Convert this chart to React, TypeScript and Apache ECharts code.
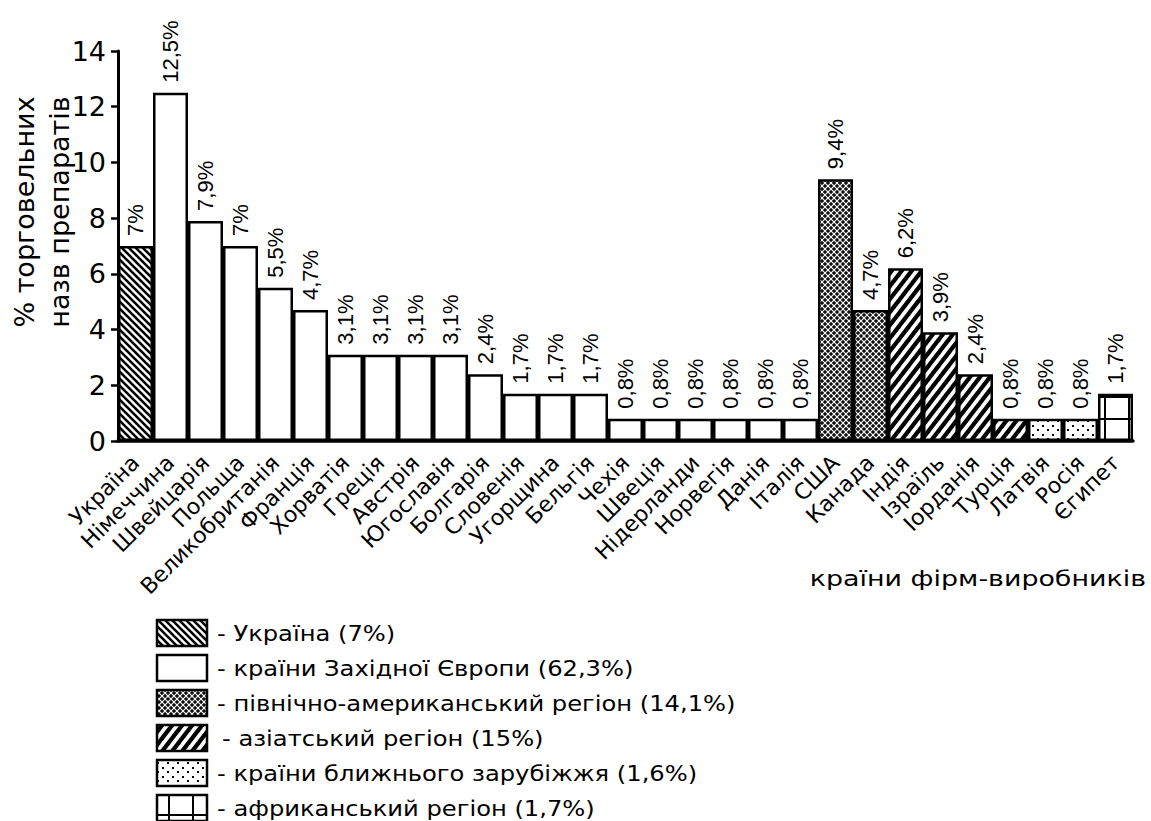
import { useEffect, useRef } from 'react';
import * as echarts from 'echarts';

const categories = [
  'Україна', 'Німеччина', 'Швейцарія', 'Польща', 'Великобританія', 'Франція',
  'Хорватія', 'Греція', 'Австрія', 'Югославія', 'Болгарія', 'Словенія',
  'Угорщина', 'Бельгія', 'Чехія', 'Швеція', 'Нідерланди', 'Норвегія', 'Данія',
  'Італія', 'США', 'Канада', 'Індія', 'Ізраїль', 'Іорданія', 'Турція',
  'Латвія', 'Росія', 'Єгипет',
];
const values = [
  7, 12.5, 7.9, 7, 5.5, 4.7, 3.1, 3.1, 3.1, 3.1, 2.4, 1.7, 1.7, 1.7,
  0.8, 0.8, 0.8, 0.8, 0.8, 0.8, 9.4, 4.7, 6.2, 3.9, 2.4, 0.8, 0.8, 0.8, 1.7,
];
const regionOf = [
  'ua',
  'we', 'we', 'we', 'we', 'we', 'we', 'we', 'we', 'we', 'we',
  'we', 'we', 'we', 'we', 'we', 'we', 'we', 'we', 'we',
  'na', 'na',
  'as', 'as', 'as', 'as',
  'near', 'near',
  'af',
];
const regionKeys = ['ua', 'we', 'na', 'as', 'near', 'af'];
const regionNames = [
  'Україна',
  'країни Західної Європи',
  'північно-американський регіон',
  'азіатський регіон',
  'країни ближнього зарубіжжя',
  'африканський регіон',
];
const regionShares = ['7%', '62,3%', '14,1%', '15%', '1,6%', '1,7%'];
const yMin = 0;
const yMax = 14;
const yStep = 2;
const yAxisTitle = ['% торговельних', 'назв препаратів'];
const xAxisTitle = 'країни фірм-виробників';

function makeTile(kind: string): HTMLCanvasElement {
  const c = document.createElement('canvas');
  let w = 8;
  let h = 8;
  if (kind === 'ua') { w = 7; h = 7; }
  if (kind === 'as') { w = 10; h = 13; }
  if (kind === 'na') { w = 6; h = 6; }
  if (kind === 'near') { w = 10; h = 9; }
  if (kind === 'af') { w = 24; h = 22; }
  c.width = w;
  c.height = h;
  const ctx = c.getContext('2d')!;
  ctx.fillStyle = '#fff';
  ctx.fillRect(0, 0, w, h);
  ctx.strokeStyle = '#000';
  ctx.fillStyle = '#000';
  if (kind === 'ua') {
    ctx.lineWidth = 2.6;
    for (const k of [-w, 0, w]) {
      ctx.beginPath();
      ctx.moveTo(k - 1, -1);
      ctx.lineTo(k + w + 1, h + 1);
      ctx.stroke();
    }
  } else if (kind === 'as') {
    ctx.lineWidth = 4.2;
    for (const k of [-w, 0, w]) {
      ctx.beginPath();
      ctx.moveTo(k - 1, h + 1.3);
      ctx.lineTo(k + w + 1, -1.3);
      ctx.stroke();
    }
  } else if (kind === 'na') {
    ctx.fillStyle = '#111';
    ctx.fillRect(0, 0, w, h);
    ctx.strokeStyle = '#fff';
    ctx.lineWidth = 1.1;
    for (const k of [-w, 0, w]) {
      ctx.beginPath();
      ctx.moveTo(k - 1, -1);
      ctx.lineTo(k + w + 1, h + 1);
      ctx.stroke();
      ctx.beginPath();
      ctx.moveTo(k - 1, h + 1);
      ctx.lineTo(k + w + 1, -1);
      ctx.stroke();
    }
  } else if (kind === 'near') {
    ctx.fillRect(2, 2, 2, 2);
    ctx.fillRect(7, 6, 2, 2);
  } else if (kind === 'af') {
    ctx.fillRect(0, 0, w, 2);
    ctx.fillRect(0, 0, 2, h);
  }
  return c;
}

function fmt(v: number): string {
  return String(v).replace('.', ',') + '%';
}

export default function App() {
  const ref = useRef<HTMLDivElement>(null);
  useEffect(() => {
    document.body.style.margin = '0';
    const chart = echarts.init(ref.current!, null, { renderer: 'svg' });
    const fills: Record<string, any> = {};
    for (const k of regionKeys) {
      fills[k] = k === 'we' ? '#fff' : { image: makeTile(k), repeat: 'repeat' };
    }
    const font = 'DejaVu Sans';
    const legendTop = 633;
    const legendStep = 35;
    const legendItems: any[] = [];
    regionKeys.forEach((k, i) => {
      const cy = legendTop + i * legendStep;
      legendItems.push({
        type: 'rect',
        shape: { x: 157, y: cy - 13, width: 50, height: 26 },
        style: { fill: fills[k], stroke: '#000', lineWidth: 2.5 },
      });
      legendItems.push({
        type: 'text',
        x: k === 'as' ? 222 : 217,
        y: cy,
        scaleX: 1.1,
        style: {
          text: '- ' + regionNames[i] + ' (' + regionShares[i] + ')',
          fontSize: 22,
          fontFamily: font,
          fill: '#000',
          align: 'left',
          verticalAlign: 'middle',
        },
      });
    });
    const option: any = {
      animation: false,
      backgroundColor: '#fff',
      grid: { left: 118, top: 51, width: 1015, height: 390 },
      xAxis: {
        type: 'category',
        data: categories,
        boundaryGap: true,
        axisLine: { lineStyle: { color: '#000', width: 3.5 } },
        axisTick: { interval: 0, length: 7, lineStyle: { color: '#000', width: 3 } },
        axisLabel: {
          interval: 0,
          rotate: 45,
          fontSize: 22,
          fontFamily: font,
          color: '#000',
          margin: 18,
        },
      },
      yAxis: {
        type: 'value',
        min: yMin,
        max: yMax,
        interval: yStep,
        axisLine: { show: true, lineStyle: { color: '#000', width: 3 } },
        axisTick: { show: true, length: 7, lineStyle: { color: '#000', width: 2.5 } },
        axisLabel: { fontSize: 27, fontFamily: font, color: '#000', margin: 12 },
        splitLine: { show: false },
      },
      series: [
        {
          type: 'bar',
          barCategoryGap: '0%',
          data: values.map((v, i) => ({
            value: v,
            itemStyle: { color: fills[regionOf[i]], borderColor: '#000', borderWidth: 2.5 },
          })),
          label: {
            show: true,
            position: 'top',
            rotate: 90,
            align: 'left',
            verticalAlign: 'middle',
            distance: 10,
            fontSize: 22,
            fontFamily: 'Liberation Sans',
            color: '#000',
            formatter: (p: any) => fmt(values[p.dataIndex]),
          },
        },
      ],
      graphic: [
        {
          type: 'text',
          x: 24,
          y: 212,
          rotation: Math.PI / 2,
          style: {
            text: yAxisTitle[0],
            fontSize: 27,
            fontFamily: font,
            fill: '#000',
            align: 'center',
            verticalAlign: 'middle',
          },
        },
        {
          type: 'text',
          x: 59,
          y: 212,
          rotation: Math.PI / 2,
          style: {
            text: yAxisTitle[1],
            fontSize: 27,
            fontFamily: font,
            fill: '#000',
            align: 'center',
            verticalAlign: 'middle',
          },
        },
        {
          type: 'text',
          x: 1146,
          y: 579,
          scaleX: 1.28,
          style: {
            text: xAxisTitle,
            fontSize: 21,
            fontFamily: font,
            fill: '#000',
            align: 'right',
            verticalAlign: 'middle',
          },
        },
        ...legendItems,
      ],
    };
    chart.setOption(option);
    return () => chart.dispose();
  }, []);
  return <div ref={ref} style={{ width: 1151, height: 821 }} />;
}
